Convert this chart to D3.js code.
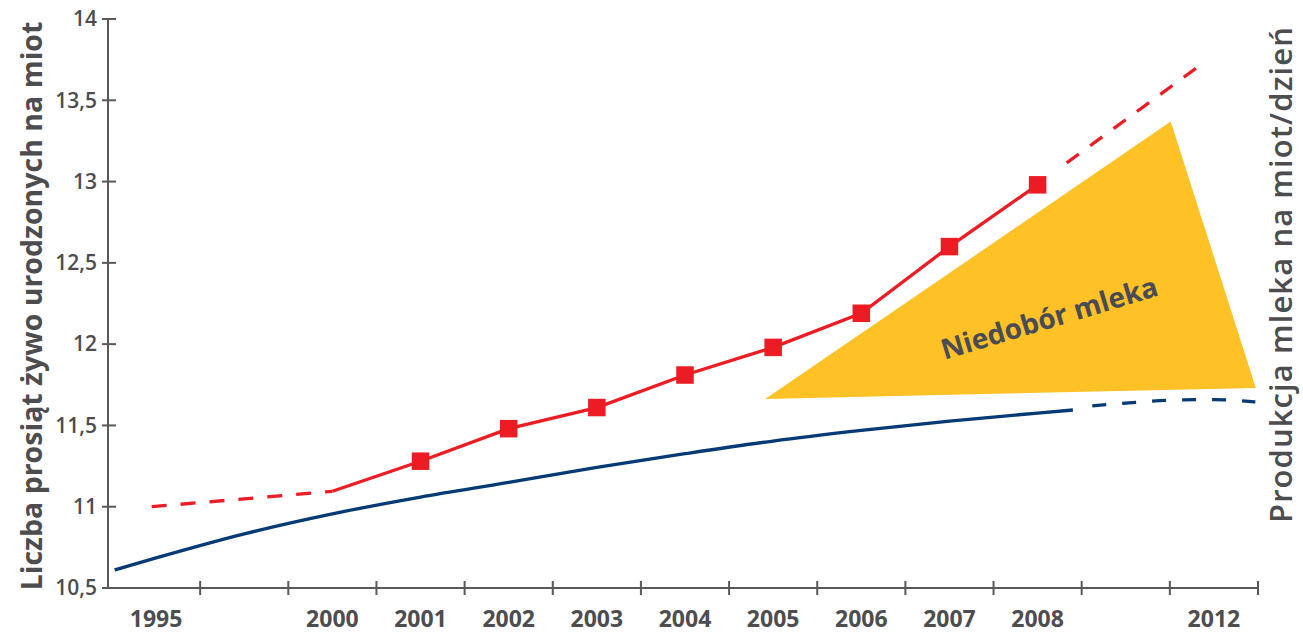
<!DOCTYPE html>
<html><head><meta charset="utf-8">
<script src="https://cdn.jsdelivr.net/npm/d3@7"></script>
<style>body{margin:0;background:#fff}svg{display:block}text{font-family:"Open Sans",sans-serif}</style>
</head><body><svg id="c" width="1303" height="633"></svg>
<script>
// ---- data ----
const categories = ["1995","","2000","2001","2002","2003","2004","2005","2006","2007","2008","","2012"];
const yTicks = [10.5, 11, 11.5, 12, 12.5, 13, 13.5, 14];
const yTickLabels = ["10,5","11","11,5","12","12,5","13","13,5","14"];
// litter size (red) measured points
const redYears = ["2000","2001","2002","2003","2004","2005","2006","2007","2008"];
const redValues = [11.095, 11.28, 11.48, 11.61, 11.81, 11.98, 12.19, 12.60, 12.98];
const redMarkerYears = ["2001","2002","2003","2004","2005","2006","2007","2008"];
const redMarkerValues = [11.28, 11.48, 11.61, 11.81, 11.98, 12.19, 12.60, 12.98];
// red dashed early trend (slot index, value)
const redEarlySlots = [0.45, 2.5];
const redEarlyValues = [11.0, 11.095];
// red dashed projection
const redProjSlots = [10.83, 12.33];
const redProjValues = [13.115, 13.71];
// milk production (blue), in slot index
const blueSlots = [0.03, 0.5, 1.5, 2.5, 3.5, 4.5, 5.5, 6.5, 7.5, 8.5, 9.5, 10.5, 10.9];
const blueValues = [10.611, 10.685, 10.833, 10.956, 11.059, 11.149, 11.242, 11.326, 11.404, 11.469, 11.527, 11.576, 11.595];
const blueProjSlots = [11.12, 11.5, 12.0, 12.5, 12.97];
const blueProjValues = [11.62, 11.637, 11.655, 11.659, 11.645];
// milk deficit triangle
const gapSlots = [7.41, 12.01, 12.975];
const gapValues = [11.662, 13.369, 11.731];
const gapLabel = "Niedobór mleka";
const leftTitle = "Liczba prosiąt żywo urodzonych na miot";
const rightTitle = "Produkcja mleka na miot/dzień";

// ---- layout ----
const svg = d3.select("#c");
const X0 = 112, X1 = 1258, AX = 108, Y0 = 588, Y1 = 19;
const grey = "#58595b", textGrey = "#4d4d4f";
const RED = "#ec1c24", BLUE = "#053a74", YEL = "#fec126";

const xs = d3.scaleLinear().domain([0, categories.length]).range([X0, X1]);
const xb = d3.scaleBand().domain(categories.map((c,i)=>i)).range([X0, X1]);
const xc = c => xb(categories.indexOf(c)) + xb.bandwidth()/2;
const y = d3.scaleLinear().domain([10.5, 14]).range([Y0, Y1]);

// triangle
svg.append("path")
  .attr("d", d3.line().x((d,i)=>xs(gapSlots[i])).y((d,i)=>y(gapValues[i]))(gapSlots) + "Z")
  .attr("fill", YEL);

// blue solid + dashed
const blueLine = d3.line().curve(d3.curveMonotoneX);
svg.append("path")
  .attr("d", blueLine(blueSlots.map((s,i)=>[xs(s), y(blueValues[i])])))
  .attr("fill","none").attr("stroke",BLUE).attr("stroke-width",3.3);
svg.append("path")
  .attr("d", blueLine(blueProjSlots.map((s,i)=>[xs(s), y(blueProjValues[i])])))
  .attr("fill","none").attr("stroke",BLUE).attr("stroke-width",3.3)
  .attr("stroke-dasharray","14,16");

// red
svg.append("path")
  .attr("d", d3.line()(redEarlySlots.map((s,i)=>[xs(s), y(redEarlyValues[i])])))
  .attr("fill","none").attr("stroke",RED).attr("stroke-width",3.3).attr("stroke-dasharray","15,14");
svg.append("path")
  .attr("d", d3.line()(redYears.map((c,i)=>[xc(c), y(redValues[i])])))
  .attr("fill","none").attr("stroke",RED).attr("stroke-width",3.3);
svg.append("path")
  .attr("d", d3.line()(redProjSlots.map((s,i)=>[xs(s), y(redProjValues[i])])))
  .attr("fill","none").attr("stroke",RED).attr("stroke-width",3.3).attr("stroke-dasharray","15,14");
const ms = 17.5;
svg.selectAll("rect.m").data(redMarkerYears).join("rect").attr("class","m")
  .attr("x", c => xc(c) - ms/2)
  .attr("y", (c,i) => y(redMarkerValues[i]) - ms/2)
  .attr("width", ms).attr("height", ms).attr("fill", RED);

// gap label
svg.append("text")
  .attr("transform", `translate(1049,317) rotate(-16.7)`)
  .attr("text-anchor","middle").attr("dominant-baseline","central")
  .attr("font-size", 28).attr("font-weight", 700).attr("fill", "#4a4b55")
  .text(gapLabel);

// axes
const ax = svg.append("g").attr("stroke", grey).attr("stroke-width", 2);
ax.append("line").attr("x1",AX).attr("x2",AX).attr("y1",Y1-1).attr("y2",Y0);
ax.append("line").attr("x1",AX).attr("x2",X1+1).attr("y1",Y0).attr("y2",Y0);
ax.selectAll("line.yt").data(yTicks).join("line").attr("class","yt")
  .attr("x1",AX-6).attr("x2",AX+8).attr("y1",d=>y(d)).attr("y2",d=>y(d));
const bounds = d3.range(1, categories.length + 1);
ax.selectAll("line.xt").data(bounds).join("line").attr("class","xt")
  .attr("x1",d=>xs(d)).attr("x2",d=>xs(d)).attr("y1",Y0-7).attr("y2",Y0+7);

svg.selectAll("text.yl").data(yTicks).join("text").attr("class","yl")
  .attr("x", 97).attr("y", d=>y(d)).attr("dy","0.35em")
  .attr("text-anchor","end").attr("font-size",21).attr("font-weight",600)
  .attr("fill", textGrey).text((d,i)=>yTickLabels[i]);

svg.selectAll("text.xl").data(categories).join("text").attr("class","xl")
  .attr("x", (c,i)=>xb(i)+xb.bandwidth()/2).attr("y", 627)
  .attr("text-anchor","middle").attr("font-size",23).attr("font-weight",700)
  .attr("fill", textGrey).text(c=>c);

svg.append("text")
  .attr("transform","translate(42,306) rotate(-90)")
  .attr("text-anchor","middle").attr("font-size",28.5).attr("font-weight",700)
  .attr("fill", textGrey).text(leftTitle);
svg.append("text")
  .attr("transform","translate(1292,275) rotate(-90)")
  .attr("text-anchor","middle").attr("font-size",31).attr("font-weight",600)
  .attr("textLength", 496).attr("lengthAdjust","spacing")
  .attr("fill", textGrey).text(rightTitle);
</script></body></html>
